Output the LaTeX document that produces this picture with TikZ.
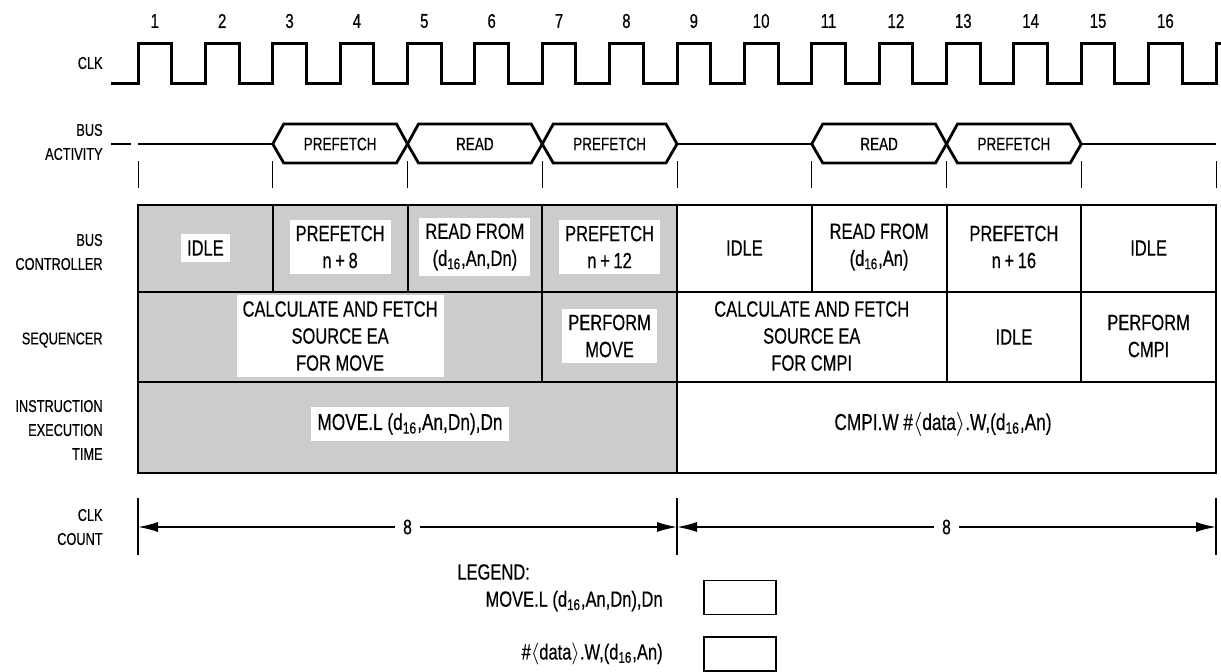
\documentclass[tikz,border=0pt]{standalone}
\usepackage{fontspec}
\setmainfont{Liberation Sans}[FakeStretch=0.75,FakeBold=0.4]
\usetikzlibrary{arrows.meta}

\tikzset{
	reloj/.style={line width=1.5pt, line join=miter},
	hexa/.style={line width=1.4pt, line join=miter},
	marca/.style={line width=0.5pt},
	rejilla/.style={line width=1pt},
	sombra/.style={fill=black!20},
	cota/.style={line width=0.7pt},
	flecha/.style={line width=0.7pt, -{Latex[length=10pt,width=5pt]}},
	lbl/.style={font=\fontsize{8.5}{12}\selectfont, align=right, anchor=east, inner sep=0pt},
	num/.style={font=\fontsize{10}{10}\selectfont, inner sep=0pt},
	buslbl/.style={font=\fontsize{9}{10}\selectfont, inner sep=0pt},
	celda/.style={font=\fontsize{11}{13.5}\selectfont, align=center, fill=white, inner sep=3pt},
	instr/.style={celda, font=\fontsize{11.5}{13.5}\selectfont},
	ocho/.style={font=\fontsize{10.5}{10}\selectfont, inner sep=4pt},
	leyenda/.style={font=\fontsize{11}{12}\selectfont, inner sep=0pt},
	caja/.style={draw, line width=0.7pt, minimum width=36pt, minimum height=17pt, inner sep=0pt}
}

% un ciclo del bus: nombre, inicio, fin, texto
\newcommand{\busciclo}[4]{%
	\draw[hexa] (#2,144) -- ({#2+11},124) -- ({#3-11},124) -- (#3,144) -- ({#3-11},163) -- ({#2+11},163) -- cycle;
	\node[buslbl] (#1) at ({(#2+#3)/2},144) {#4};
}

\begin{document}
\begin{tikzpicture}[x=0.5pt,y=-0.5pt]
	\useasboundingbox (0,0) rectangle (1221,671);

	% Reloj
	\node[lbl] (clk) at (103,63) {CLK};
	\draw[reloj] (111,83) \foreach \k in {0,...,15}{ -- ({138+\k*67.375},83) -- ++(0,-40) -- ++(33.69,0) -- ++(0,40)} -- (1216,83) -- (1216,43) -- (1221,43);
	\foreach \k in {1,...,16}
		\node[num] (n\k) at ({138+(\k-1)*67.375+16.8},21) {\k};

	% Actividad del bus
	\node[lbl] (bus) at (103,142) {BUS\\ACTIVITY};
	\draw[hexa] (111,144) -- (131,144);
	\draw[hexa] (138,144) -- (272.75,144);
	\busciclo{pfA}{272.75}{407.5}{PREFETCH}
	\busciclo{rdA}{407.5}{542.25}{READ}
	\busciclo{pfB}{542.25}{677}{PREFETCH}
	\draw[hexa] (677,144) -- (811.75,144);
	\busciclo{rdB}{811.75}{946.5}{READ}
	\busciclo{pfC}{946.5}{1081.25}{PREFETCH}
	\draw[hexa] (1081.25,144) -- (1216,144);
	\foreach \x in {138,272.75,407.5,542.25,677,811.75,946.5,1081.25,1216}
		\draw[marca] (\x,161) -- (\x,188);

	% Tabla
	\fill[sombra] (138,205) rectangle (677,473);
	\draw[rejilla] (138,205) rectangle (1216,473);
	\draw[rejilla] (138,292) -- (1216,292) (138,382) -- (1216,382);
	\foreach \x in {272.75,407.5,542.25,677,811.75,946.5,1081.25}
		\draw[rejilla] (\x,205) -- (\x,292);
	\foreach \x in {542.25,677,946.5,1081.25}
		\draw[rejilla] (\x,292) -- (\x,382);
	\draw[rejilla] (677,382) -- (677,473);

	\node[lbl] (ctrl) at (103,252) {BUS\\CONTROLLER};
	\node[celda] (bcA) at (205.4,248) {IDLE};
	\node[celda] (bcB) at (340.1,247) {PREFETCH\\n\,+\,8};
	\node[celda] (bcC) at (474.9,247) {READ FROM\\(d\textsubscript{16},An,Dn)};
	\node[celda] (bcD) at (609.6,247) {PREFETCH\\n\,+\,12};
	\node[celda] (bcE) at (744.4,248) {IDLE};
	\node[celda] (bcF) at (879.1,247) {READ FROM\\(d\textsubscript{16},An)};
	\node[celda] (bcG) at (1013.9,247) {PREFETCH\\n\,+\,16};
	\node[celda] (bcH) at (1148.6,248) {IDLE};

	\node[lbl] (seq) at (103,340) {SEQUENCER};
	\node[celda] (sqA) at (340.1,336) {CALCULATE AND FETCH\\SOURCE EA\\FOR MOVE};
	\node[celda] (sqB) at (609.6,336) {PERFORM\\MOVE};
	\node[celda] (sqC) at (811.75,336) {CALCULATE AND FETCH\\SOURCE EA\\FOR CMPI};
	\node[celda] (sqD) at (1013.9,337) {IDLE};
	\node[celda] (sqE) at (1148.6,336) {PERFORM\\CMPI};

	\node[lbl] (ins) at (103,430) {INSTRUCTION\\EXECUTION\\TIME};
	\node[instr] (ieA) at (410,424) {MOVE.L (d\textsubscript{16},An,Dn),Dn};
	\node[instr] (ieB) at (943,424) {CMPI.W \#$\langle$data$\rangle$.W,(d\textsubscript{16},An)};

	% Cuenta de relojes
	\node[lbl] (cnt) at (103,527) {CLK\\COUNT};
	\foreach \x in {138,677,1216}
		\draw[cota] (\x,498) -- (\x,555);
	\coordinate (cA) at (138,527);
	\coordinate (cB) at (677,527);
	\coordinate (cC) at (1216,527);
	\node[ocho] (ochoA) at (407.5,527) {8};
	\node[ocho] (ochoB) at (946.5,527) {8};
	\draw[flecha] (ochoA) -- (cA);
	\draw[flecha] (ochoA) -- (cB);
	\draw[flecha] (ochoB) -- (cB);
	\draw[flecha] (ochoB) -- (cC);

	% Leyenda
	\node[leyenda, anchor=west] (ley) at (457,572) {LEGEND:};
	\node[leyenda, anchor=east] (leyA) at (663,601) {MOVE.L (d\textsubscript{16},An,Dn),Dn};
	\node[leyenda, anchor=east] (leyB) at (663,654) {\#$\langle$data$\rangle$.W,(d\textsubscript{16},An)};
	\node[caja] (cajaA) at (740,597.5) {};
	\node[caja] (cajaB) at (740,654) {};
\end{tikzpicture}
\end{document}
